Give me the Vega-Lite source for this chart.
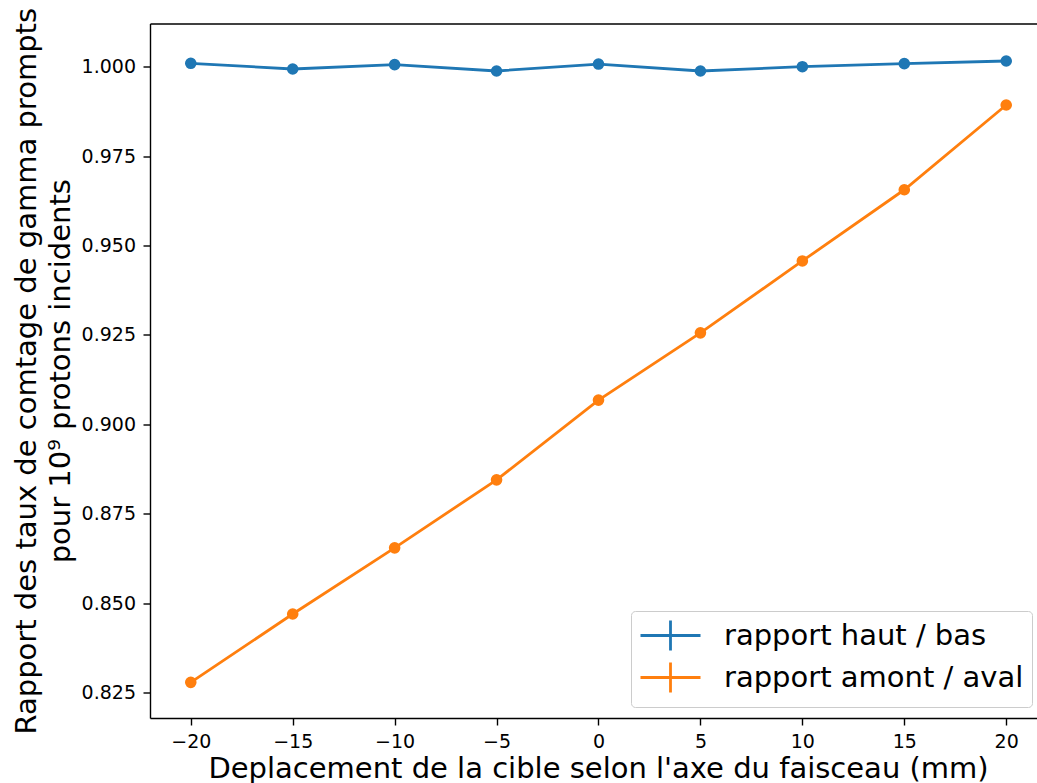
{
  "$schema": "https://vega.github.io/schema/vega-lite/v6.json",
  "autosize": {"type": "none"},
  "padding": {"left": 150, "top": 23.5, "right": 0, "bottom": 65},
  "width": 887,
  "height": 694.5,
  "config": {
    "font": "DejaVu Sans",
    "view": {"stroke": null},
    "axis": {
      "domainColor": "#000000",
      "domainWidth": 1.4,
      "tickColor": "#000000",
      "tickWidth": 1.4,
      "tickSize": 7,
      "labelFont": "DejaVu Sans",
      "labelFontSize": 19,
      "labelColor": "#000000",
      "labelPadding": 7.5,
      "titleFont": "DejaVu Sans",
      "titleFontSize": 29,
      "titleFontWeight": "normal",
      "titleColor": "#000000",
      "grid": false
    }
  },
  "data": {
    "values": [
      {"x": -20, "ratio": 1.00095, "serie": "rapport haut / bas"},
      {"x": -15, "ratio": 0.99936, "serie": "rapport haut / bas"},
      {"x": -10, "ratio": 1.0006, "serie": "rapport haut / bas"},
      {"x": -5, "ratio": 0.9988, "serie": "rapport haut / bas"},
      {"x": 0, "ratio": 1.00075, "serie": "rapport haut / bas"},
      {"x": 5, "ratio": 0.9988, "serie": "rapport haut / bas"},
      {"x": 10, "ratio": 1.0, "serie": "rapport haut / bas"},
      {"x": 15, "ratio": 1.00085, "serie": "rapport haut / bas"},
      {"x": 20, "ratio": 1.0016, "serie": "rapport haut / bas"},
      {"x": -20, "ratio": 0.8279, "serie": "rapport amont / aval"},
      {"x": -15, "ratio": 0.847, "serie": "rapport amont / aval"},
      {"x": -10, "ratio": 0.8655, "serie": "rapport amont / aval"},
      {"x": -5, "ratio": 0.8845, "serie": "rapport amont / aval"},
      {"x": 0, "ratio": 0.9068, "serie": "rapport amont / aval"},
      {"x": 5, "ratio": 0.9256, "serie": "rapport amont / aval"},
      {"x": 10, "ratio": 0.9457, "serie": "rapport amont / aval"},
      {"x": 15, "ratio": 0.9656, "serie": "rapport amont / aval"},
      {"x": 20, "ratio": 0.9893, "serie": "rapport amont / aval"}
    ]
  },
  "layer": [
    {
      "mark": {"type": "line", "strokeWidth": 2.8, "clip": true, "point": {"filled": true, "size": 135, "opacity": 1}},
      "encoding": {
        "x": {
          "field": "x", "type": "quantitative",
          "scale": {"domain": [-22, 21.51], "nice": false, "zero": false},
          "axis": {
            "orient": "bottom",
            "values": [-20, -15, -10, -5, 0, 5, 10, 15, 20],
            "format": "d",
            "title": "Deplacement de la cible selon l'axe du faisceau (mm)",
            "titleX": 448,
            "titleAnchor": "middle",
            "titlePadding": 3
          }
        },
        "y": {
          "field": "ratio", "type": "quantitative",
          "scale": {"domain": [0.81793, 1.01208], "nice": false, "zero": false},
          "axis": {
            "values": [0.825, 0.85, 0.875, 0.9, 0.925, 0.95, 0.975, 1.0],
            "format": ".3f",
            "title": ["Rapport des taux de comtage de gamma prompts", "pour 10⁹ protons incidents"],
            "titleLineHeight": 34,
            "titlePadding": 6
          }
        },
        "color": {
          "field": "serie", "type": "nominal",
          "scale": {"domain": ["rapport haut / bas", "rapport amont / aval"], "range": ["#1f77b4", "#ff7f0e"]},
          "legend": {
            "title": null,
            "orient": "none",
            "legendX": 481,
            "legendY": 587.5,
            "symbolType": "M-2,0H2M0,-1V1",
            "symbolSize": 900,
            "symbolOffset": 15,
            "symbolStrokeWidth": 2.8,
            "symbolFillColor": "transparent",
            "labelFontSize": 29,
            "labelFont": "DejaVu Sans",
            "labelColor": "#000000",
            "labelOffset": 37,
            "labelLimit": 0,
            "rowPadding": -1,
            "padding": 8,
            "strokeColor": "#cccccc",
            "fillColor": "rgba(255,255,255,0.8)",
            "cornerRadius": 4
          }
        }
      }
    },
    {
      "mark": {"type": "rule", "opacity": 0},
      "encoding": {
        "x": {
          "field": "x", "type": "quantitative",
          "axis": {"orient": "top", "labels": false, "ticks": false, "title": null, "domainWidth": 1.4}
        }
      }
    }
  ],
  "resolve": {"axis": {"x": "independent"}}
}
